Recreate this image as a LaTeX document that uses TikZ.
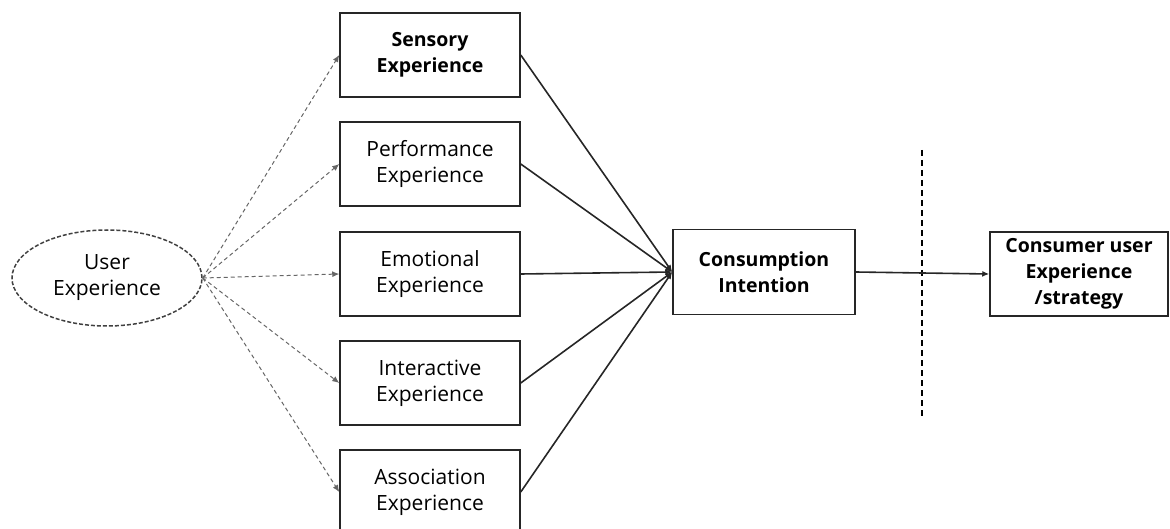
\documentclass[tikz,border=0pt]{standalone}
\usepackage{fontspec}
\setmainfont{Open Sans}
\usetikzlibrary{arrows.meta,shapes.geometric}
\begin{document}
\begin{tikzpicture}[x=1pt,y=-1pt,
  box/.style={draw=black!85,line width=1.5pt,minimum width=180pt,minimum height=84pt,align=center,inner sep=0pt,font=\fontsize{21}{26}\selectfont,text=black},
  boldbox/.style={box,font=\fontsize{19.5}{26}\selectfont\bfseries},
  dashconn/.style={draw=black!60,line width=1pt,dash pattern=on 4pt off 3pt,-{Latex[length=7pt,width=6pt]}},
  solconn/.style={draw=black!85,line width=1.6pt,-{Latex[length=7pt,width=6pt]}},
  sep/.style={draw=black,line width=1.6pt,dash pattern=on 6pt off 4pt}]
\useasboundingbox (0,0) rectangle (1170,529);
\node[ellipse,draw=black!75,line width=1.5pt,dash pattern=on 4pt off 2pt,minimum width=190pt,minimum height=96pt,inner sep=0pt,align=center,font=\fontsize{21}{26}\selectfont,text=black] (ue) at (107,278) {User\\Experience};
\node[boldbox] (se) at (430,55) {Sensory\\Experience};
\node[box] (pe) at (430,164) {Performance\\Experience};
\node[box] (ee) at (430,274) {Emotional\\Experience};
\node[box] (ie) at (430,383) {Interactive\\Experience};
\node[box] (ae) at (430,492) {Association\\Experience};
\node[boldbox,minimum width=182pt,minimum height=85pt] (ci) at (764,272) {Consumption\\Intention};
\node[boldbox,minimum width=178pt] (cu) at (1079,274) {Consumer user\\Experience\\/strategy};
\coordinate (st) at (922,150);
\coordinate (sb) at (922,417);
\draw[sep] (st) -- (sb);
\foreach \b in {se,pe,ee,ie,ae}{
  \draw[dashconn] (ue.east) -- (\b.west);
  \draw[solconn] (\b.east) -- (ci.west);
}
\draw[solconn] (ci.east) -- (cu.west);
\end{tikzpicture}
\end{document}
